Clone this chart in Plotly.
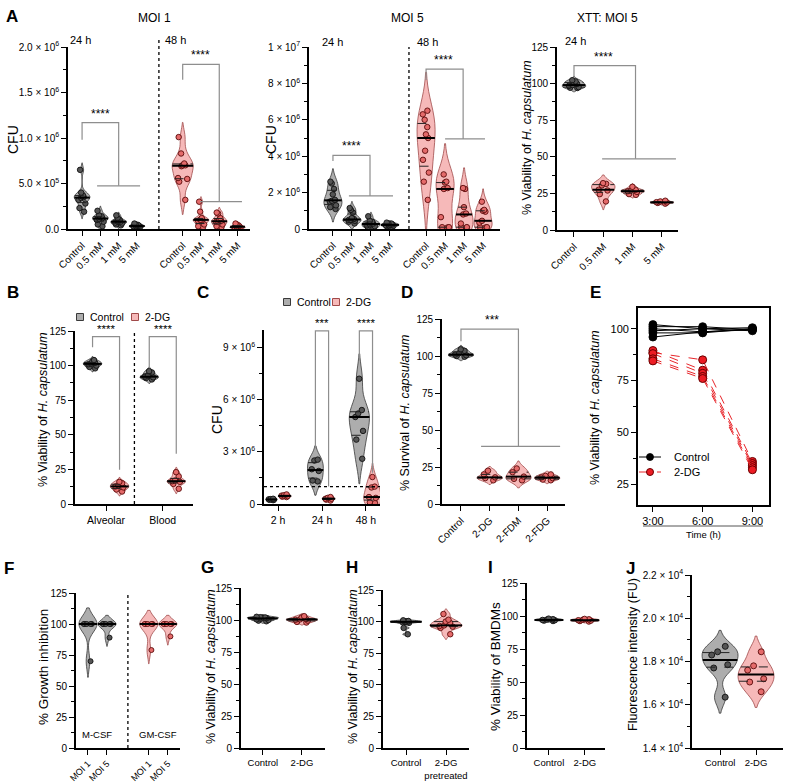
import numpy as np
import plotly.graph_objects as go

W, H = 789, 782
FONT = "Liberation Sans, Arial, Helvetica, sans-serif"

# ======================= DATA =======================
# Panel A, MOI 1 (CFU, values in units of 1e6)
A1_labels = ["Control", "0.5 mM", "1 mM", "5 mM", "Control", "0.5 mM", "1 mM", "5 mM"]
A1_pos = [0, 1, 2, 3, 5.5, 6.5, 7.5, 8.5]
A1_kind = ["c", "c", "c", "c", "t", "t", "t", "t"]
A1_vals = [
    [0.65, 0.40, 0.37, 0.36, 0.35, 0.34, 0.32, 0.28, 0.23, 0.19],
    [0.20, 0.15, 0.14, 0.13, 0.12, 0.11, 0.10, 0.08, 0.05, 0.03],
    [0.15, 0.12, 0.10, 0.09, 0.08, 0.08, 0.07, 0.06, 0.05, 0.04],
    [0.06, 0.05, 0.045, 0.04, 0.035, 0.03, 0.03, 0.025, 0.02, 0.015],
    [1.01, 0.83, 0.72, 0.70, 0.70, 0.69, 0.56, 0.55, 0.52, 0.32],
    [0.30, 0.19, 0.12, 0.10, 0.10, 0.10, 0.09, 0.05, 0.03, 0.02],
    [0.18, 0.17, 0.12, 0.10, 0.09, 0.08, 0.08, 0.05, 0.03, 0.02],
    [0.06, 0.05, 0.04, 0.03, 0.03, 0.02, 0.02, 0.015, 0.01, 0.01],
]
A1_yticks = [0, 0.5e6, 1.0e6, 1.5e6, 2.0e6]
A1_yticktext = ["0.0", "5.0 × 10<sup>5</sup>", "1.0 × 10<sup>6</sup>", "1.5 × 10<sup>6</sup>", "2.0 × 10<sup>6</sup>"]

# Panel A, MOI 5 (CFU, units of 1e6)
A2_labels = A1_labels
A2_pos = [0, 1, 2, 3, 4.9, 5.9, 6.9, 7.9]
A2_kind = A1_kind
A2_vals = [
    [2.6, 2.5, 2.2, 1.9, 1.6, 1.55, 1.5, 1.3, 1.2, 1.1],
    [1.15, 1.05, 0.9, 0.6, 0.55, 0.5, 0.5, 0.45, 0.4, 0.3],
    [0.7, 0.45, 0.4, 0.35, 0.3, 0.25, 0.2, 0.15, 0.1, 0.05],
    [0.35, 0.3, 0.3, 0.25, 0.25, 0.2, 0.2, 0.18, 0.15, 0.1],
    [6.5, 6.3, 6.0, 5.6, 5.2, 5.0, 4.3, 3.8, 3.1, 2.6, 1.6],
    [3.0, 2.6, 2.55, 2.25, 2.2, 0.65, 0.1, 0.1, 0.08],
    [2.25, 2.2, 1.2, 0.85, 0.8, 0.3, 0.1, 0.1, 0.08],
    [1.5, 1.05, 1.0, 0.95, 0.45, 0.35, 0.1, 0.1, 0.08],
]
A2_yticks = [0, 2e6, 4e6, 6e6, 8e6, 1e7]
A2_yticktext = ["0", "2 × 10<sup>6</sup>", "4 × 10<sup>6</sup>", "6 × 10<sup>6</sup>", "8 × 10<sup>6</sup>", "1 × 10<sup>7</sup>"]

# Panel A, XTT: MOI 5 (% viability)
A3_labels = ["Control", "0.5 mM", "1 mM", "5 mM"]
A3_pos = [0, 1, 2, 3]
A3_kind = ["c", "t", "t", "t"]
A3_vals = [
    [102.3, 101.5, 100.8, 99.8, 99.0, 98.5, 97.6, 97.2, 97.0],
    [32, 31.5, 30.5, 27.5, 27, 24.5, 19.5],
    [29.5, 27.5, 27, 26.5, 26, 24.5, 24],
    [20, 19.5, 19, 18.8, 18.5, 18],
]

# Panel B
B_groups = ["Alveolar", "Blood"]
B_group_pos = [0, 2.1]
B_pos = [-0.5, 0.5, 1.6, 2.6]
B_kind = ["c", "t", "c", "t"]
B_vals = [
    [104, 103, 102, 101.5, 101, 100, 99, 98],
    [16, 15, 13.5, 12.7, 12, 10.5, 9],
    [96, 95, 93, 92, 91.5, 91, 90],
    [23, 20, 17, 16.5, 16, 14.5, 11],
]

# Panel C (CFU, units of 1e6)
C_groups = ["2 h", "24 h", "48 h"]
C_group_pos = [0, 1, 2]
C_pos = [-0.15, 0.15, 0.85, 1.15, 1.85, 2.15]
C_kind = ["c", "t", "c", "t", "c", "t"]
C_vals = [
    [0.30, 0.28, 0.27, 0.25, 0.24, 0.22],
    [0.55, 0.50, 0.48, 0.45, 0.42, 0.40],
    [2.55, 2.5, 2.0, 1.9, 1.35, 1.3],
    [0.40, 0.35, 0.30, 0.30, 0.25, 0.20],
    [7.2, 5.4, 5.2, 5.0, 4.2, 3.7, 2.6],
    [1.55, 1.0, 0.95, 0.4, 0.35, 0.1, 0.05],
]
C_widths = [0.26, 0.3, 0.36, 0.3, 0.46, 0.4]
C_lod = 1.0e6
C_yticks = [0, 3e6, 6e6, 9e6]
C_yticktext = ["0", "3 × 10<sup>6</sup>", "6 × 10<sup>6</sup>", "9 × 10<sup>6</sup>"]

# Panel D
D_labels = ["Control", "2-DG", "2-FDM", "2-FDG"]
D_pos = [0, 1, 2, 3]
D_kind = ["c", "t", "t", "t"]
D_vals = [
    [104.5, 103.5, 102, 101, 100.5, 100, 99.5],
    [22.5, 20, 18, 17.5, 16],
    [24, 21.5, 18.5, 17, 16],
    [20, 19, 18, 17.5, 16.5, 16],
]

# Panel E (time course)
E_times = [3, 6, 9]
E_ticklabels = ["3:00", "6:00", "9:00"]
E_control = [
    [102, 100, 100.5],
    [101, 101, 99.5],
    [100, 98.5, 100],
    [99, 100, 99],
    [98, 98, 100],
    [96, 98.5, 99.5],
]
E_2dg = [
    [88.5, 85, 36],
    [89.5, 80, 35],
    [88, 78.5, 34],
    [85.5, 77, 33],
    [84.5, 76, 32],
]

# Panel F
F_labels = ["MOI 1", "MOI 5", "MOI 1", "MOI 5"]
F_pos = [0, 1, 3.2, 4.2]
F_kind = ["c", "c", "t", "t"]
F_vals = [
    [100, 100, 100, 100, 100, 70],
    [100, 100, 100, 100, 100, 89],
    [100, 100, 100, 100, 100, 79],
    [100, 100, 100, 100, 100, 90],
]
F_bw = [6.5, 3.5, 5.5, 3.5]

# Panel G
G_labels = ["Control", "2-DG"]
G_pos = [0, 1]
G_kind = ["c", "t"]
G_vals = [
    [102.5, 102.2, 102, 101.8, 101.5, 101, 100.5, 100, 99.5, 99],
    [103, 102, 100.8, 100.5, 100.2, 99.5, 98.5, 98],
]

# Panel H
H_labels = ["Control", "2-DG<br>pretreated"]
H_pos = [0, 1]
H_kind = ["c", "t"]
H_vals = [
    [101, 100.5, 100.2, 100, 99.8, 99.5, 99, 95, 90],
    [106, 101.5, 100, 99, 97, 96.5, 96, 95, 90],
]

# Panel I
I_labels = ["Control", "2-DG"]
I_pos = [0, 1]
I_kind = ["c", "t"]
I_vals = [
    [98, 97.6, 97.3, 97, 96.8, 96.5, 96.2],
    [97.8, 97.5, 97.2, 96.8, 96.5, 96.2, 95.8],
]

# Panel J (fluorescence units)
J_labels = ["Control", "2-DG"]
J_pos = [0, 1]
J_kind = ["c", "t"]
J_vals = [
    [18700, 18450, 18300, 17850, 17700, 16350],
    [18450, 17800, 17600, 17200, 17050, 16600],
]
J_yticks = [14000, 16000, 18000, 20000, 22000]
J_yticktext = ["1.4 × 10<sup>4</sup>", "1.6 × 10<sup>4</sup>", "1.8 × 10<sup>4</sup>", "2.0 × 10<sup>4</sup>", "2.2 × 10<sup>4</sup>"]

PCT_ticks = [0, 25, 50, 75, 100, 125]

# ======================= HELPERS =======================
STY = {
    "c": dict(fill="#adadad", line="#3a3a3a", mfill="#555555", mline="#111111"),
    "t": dict(fill="#f6b9b9", line="#a04a4a", mfill="#e46a6a", mline="#5a0a0a"),
}

fig = go.Figure()
annotations = []
shapes = []


def px_x(px):
    return px / W


def px_y(py):
    return 1 - py / H


def silverman(v):
    v = np.asarray(v, float)
    n = len(v)
    sd = v.std(ddof=1)
    q1, q3 = np.percentile(v, [25, 75])
    a = min(sd, (q3 - q1) / 1.349)
    if a <= 0:
        a = sd
    return max(1.059 * a * n ** -0.2, (v.max() - v.min()) / 100)


def kde_half(v, bw, width, ys):
    v = np.asarray(v, float)
    grid = np.linspace(v.min() - 2 * bw, v.max() + 2 * bw, 600)

    def dens(y):
        y = np.atleast_1d(np.asarray(y, float))
        return np.exp(-0.5 * ((y[:, None] - v[None, :]) / bw) ** 2).sum(1)

    mx = dens(grid).max()
    return width / 2 * dens(ys) / mx


def axref(i):
    return ("x" if i == 1 else f"x{i}"), ("y" if i == 1 else f"y{i}")


def add_violin(ax, x, vals, kind, width, scale=1.0, bw=None, msize=5.5):
    xr, yr = axref(ax)
    v = np.asarray(vals, float) * scale
    if bw is None:
        bw = silverman(v)
    else:
        bw = bw * scale
    s = STY[kind]
    fig.add_trace(go.Violin(
        x=[x] * len(v), y=v, xaxis=xr, yaxis=yr, width=width, bandwidth=bw,
        spanmode="soft", scalemode="width", fillcolor=s["fill"],
        line=dict(color=s["line"], width=0.8), points="all", pointpos=0, jitter=0.55,
        marker=dict(size=msize, color=s["mfill"], line=dict(color=s["mline"], width=0.9)),
        box_visible=False, meanline_visible=False, showlegend=False, hoverinfo="y",
    ))
    q1, med, q3 = np.percentile(v, [25, 50, 75])
    hw = kde_half(v, bw, width, [q1, med, q3])
    fig.add_trace(go.Scatter(
        x=[x - hw[0], x + hw[0], None, x - hw[2], x + hw[2]],
        y=[q1, q1, None, q3, q3], mode="lines", xaxis=xr, yaxis=yr,
        line=dict(color="#222222", width=1, dash="dash"), showlegend=False, hoverinfo="skip"))
    fig.add_trace(go.Scatter(
        x=[x - hw[1], x + hw[1]], y=[med, med], mode="lines", xaxis=xr, yaxis=yr,
        line=dict(color="black", width=2), showlegend=False, hoverinfo="skip"))


def add_bracket(ax, pts, scale=1.0):
    xr, yr = axref(ax)
    xs, ys = [], []
    for seg in pts:
        for (a, b) in seg:
            xs.append(a)
            ys.append(b * scale)
        xs.append(None)
        ys.append(None)
    fig.add_trace(go.Scatter(x=xs, y=ys, mode="lines", xaxis=xr, yaxis=yr,
                             line=dict(color="#8e8e8e", width=1.2),
                             showlegend=False, hoverinfo="skip"))


def stars(ax, x, y, text, size=12):
    xr, yr = axref(ax)
    annotations.append(dict(x=x, y=y, xref=xr, yref=yr, text=text, showarrow=False,
                            yanchor="bottom", font=dict(size=size, family=FONT, color="black")))


def ann(px, py, text, size=11, bold=False, xanchor="center", yanchor="middle", angle=0):
    annotations.append(dict(x=px_x(px), y=px_y(py), xref="paper", yref="paper",
                            text=(f"<b>{text}</b>" if bold else text), showarrow=False,
                            font=dict(size=size, family=FONT, color="black"),
                            xanchor=xanchor, yanchor=yanchor, textangle=angle))


def axis_common():
    return dict(showline=True, linecolor="black", linewidth=1.8, ticks="outside",
                ticklen=5, tickwidth=1.4, tickcolor="black", showgrid=False,
                zeroline=False, automargin=False,
                tickfont=dict(size=10, family=FONT, color="black"))


layout_axes = {}


def set_axes(i, xpx, ypx, xrange, yrange, xtickvals, xticktext, ytickvals, yticktext,
             yminor, xangle=0, xtickfont=10, mirror=False):
    xk = "xaxis" if i == 1 else f"xaxis{i}"
    yk = "yaxis" if i == 1 else f"yaxis{i}"
    xr, yr = axref(i)
    xa = axis_common()
    xa.update(domain=[px_x(xpx[0]), px_x(xpx[1])], range=xrange, anchor=yr,
              tickmode="array", tickvals=xtickvals, ticktext=xticktext, tickangle=xangle,
              tickfont=dict(size=xtickfont, family=FONT, color="black"))
    ya = axis_common()
    ya.update(domain=[px_y(ypx[1]), px_y(ypx[0])], range=yrange, anchor=xr,
              tickmode="array", tickvals=ytickvals, ticktext=yticktext,
              minor=dict(tickvals=yminor, ticks="outside", ticklen=3, tickwidth=1.2,
                         tickcolor="black", showgrid=False))
    if mirror:
        xa.update(mirror=True)
        ya.update(mirror=True)
    layout_axes[xk] = xa
    layout_axes[yk] = ya


pct_minor = [12.5, 37.5, 62.5, 87.5, 112.5]

# ======================= PANEL A =======================
set_axes(1, (68, 250), (47, 229), [-0.77, 9.18], [0, 2.0e6], A1_pos, A1_labels,
         A1_yticks, A1_yticktext, [0.25e6, 0.75e6, 1.25e6, 1.75e6], xangle=-45)
for p, v, k in zip(A1_pos, A1_vals, A1_kind):
    add_violin(1, p, v, k, 1.15 if (p == 5.5) else 0.85, scale=1e6)
add_bracket(1, [[(0, 0.98), (0, 1.17), (2, 1.17), (2, 0.475)], [(0.82, 0.475), (3.17, 0.475)]], 1e6)
add_bracket(1, [[(5.5, 1.64), (5.5, 1.81), (7.5, 1.81), (7.5, 0.30)], [(6.45, 0.30), (8.74, 0.30)]], 1e6)
stars(1, 1.0, 1.17e6, "****")
stars(1, 6.5, 1.81e6, "****")
shapes.append(dict(type="line", xref="x", yref="paper", x0=4.2, x1=4.2, y0=px_y(229), y1=px_y(40),
                   line=dict(color="black", width=1.3, dash="dot")))

set_axes(2, (309, 500), (47, 229), [-1.26, 8.79], [0, 1.0e7], A2_pos, A2_labels,
         A2_yticks, A2_yticktext, [1e6, 3e6, 5e6, 7e6, 9e6], xangle=-45)
for p, v, k in zip(A2_pos, A2_vals, A2_kind):
    add_violin(2, p, v, k, 0.95, scale=1e6)
add_bracket(2, [[(0, 3.73), (0, 4.05), (1.95, 4.05), (1.95, 1.82)], [(0.84, 1.82), (3.16, 1.82)]], 1e6)
add_bracket(2, [[(4.9, 8.18), (4.9, 8.78), (6.85, 8.78), (6.85, 4.95)], [(5.9, 4.95), (8.0, 4.95)]], 1e6)
stars(2, 1.0, 4.05e6, "****")
stars(2, 5.8, 8.78e6, "****")
shapes.append(dict(type="line", xref="x2", yref="paper", x0=4.0, x1=4.0, y0=px_y(229), y1=px_y(47),
                   line=dict(color="black", width=1.3, dash="dot")))

set_axes(3, (557, 678), (47, 230), [-0.58, 3.55], [0, 125], A3_pos, A3_labels,
         PCT_ticks, [str(t) for t in PCT_ticks], pct_minor, xangle=-45)
for p, v, k in zip(A3_pos, A3_vals, A3_kind):
    add_violin(3, p, v, k, 0.8)
add_bracket(3, [[(0, 104.5), (0, 112.3), (2.1, 112.3), (2.1, 48.6)], [(0.96, 48.6), (3.48, 48.6)]])
stars(3, 1.0, 112.3, "****")

ann(12, 17, "A", 17, bold=True)
ann(154, 18, "MOI 1", 12)
ann(407, 18, "MOI 5", 12)
ann(607, 18, "XTT: MOI 5", 12)
ann(80, 40, "24 h", 11)
ann(175, 40, "48 h", 11)
ann(332, 42, "24 h", 11)
ann(427, 42, "48 h", 11)
ann(575, 41, "24 h", 11)
ann(13, 140, "CFU", 14, angle=-90)
ann(271, 140, "CFU", 14, angle=-90)
ann(527, 138, "% Viability of <i>H. capsulatum</i>", 12.5, angle=-90)

# ======================= PANEL B =======================
set_axes(4, (75, 193), (331, 504), [-1.15, 3.22], [0, 125], B_group_pos, B_groups,
         PCT_ticks, [str(t) for t in PCT_ticks], pct_minor, xtickfont=10.5)
for p, v, k in zip(B_pos, B_vals, B_kind):
    add_violin(4, p, v, k, 0.68)
add_bracket(4, [[(-0.5, 113.2), (-0.5, 120.9), (0.5, 120.9), (0.5, 24.8)]])
add_bracket(4, [[(1.6, 98), (1.6, 120.9), (2.6, 120.9), (2.6, 36.3)]])
stars(4, 0.0, 120.9, "****", 11.5)
stars(4, 2.1, 120.9, "****", 11.5)
shapes.append(dict(type="line", xref="x4", yref="paper", x0=1.05, x1=1.05, y0=px_y(504), y1=px_y(331),
                   line=dict(color="black", width=1.3, dash="dot")))
ann(13, 293, "B", 17, bold=True)
ann(43, 410, "% Viability of <i>H. capsulatum</i>", 12.5, angle=-90)


def legend_sq(cx, cy, kind, label, size=10.5):
    s = STY[kind]
    shapes.append(dict(type="rect", xref="paper", yref="paper",
                       x0=px_x(cx - 3.5), x1=px_x(cx + 3.5), y0=px_y(cy + 3.5), y1=px_y(cy - 3.5),
                       fillcolor=s["fill"], line=dict(color=s["line"], width=1)))
    ann(cx + 8, cy, label, size, xanchor="left")


legend_sq(80, 317, "c", "Control")
legend_sq(135, 317, "t", "2-DG")

# ======================= PANEL C =======================
set_axes(5, (264, 380), (330, 504), [-0.32, 2.32], [0, 1.0e7], C_group_pos, C_groups,
         C_yticks, C_yticktext, [1.5e6, 4.5e6, 7.5e6], xtickfont=10.5)
for p, v, k, w in zip(C_pos, C_vals, C_kind, C_widths):
    add_violin(5, p, v, k, w, scale=1e6)
add_bracket(5, [[(0.85, 3.2), (0.85, 9.95), (1.15, 9.95), (1.15, 1.0)]], 1e6)
add_bracket(5, [[(1.85, 8.3), (1.85, 9.95), (2.15, 9.95), (2.15, 1.8)]], 1e6)
stars(5, 1.0, 9.95e6, "***", 11.5)
stars(5, 2.0, 9.95e6, "****", 11.5)
shapes.append(dict(type="line", xref="x5 domain", yref="y5", x0=0, x1=1, y0=C_lod, y1=C_lod,
                   line=dict(color="black", width=1.3, dash="dot")))
ann(203, 293, "C", 17, bold=True)
ann(217, 420, "CFU", 14, angle=-90)
legend_sq(287, 302, "c", "Control")
legend_sq(336, 302, "t", "2-DG")

# ======================= PANEL D =======================
set_axes(6, (442, 565), (319, 504), [-0.66, 3.62], [0, 125], D_pos, D_labels,
         PCT_ticks, [str(t) for t in PCT_ticks], pct_minor, xangle=-45)
for p, v, k in zip(D_pos, D_vals, D_kind):
    add_violin(6, p, v, k, 0.88)
add_bracket(6, [[(0, 109.9), (0, 118.2), (2, 118.2), (2, 39)], [(0.7, 39), (3.45, 39)]])
stars(6, 1.08, 118.2, "***")
ann(407, 292, "D", 17, bold=True)
ann(405, 413, "% Survival of <i>H. capsulatum</i>", 12.5, angle=-90)

# ======================= PANEL E =======================
set_axes(7, (638, 769), (308, 505), [2.1, 10.0], [15, 110], E_times, E_ticklabels,
         [25, 50, 75, 100], ["25", "50", "75", "100"], [37.5, 62.5, 87.5], mirror=True,
         xtickfont=11)
layout_axes["yaxis7"]["tickfont"] = dict(size=11, family=FONT, color="black")
for s in E_control:
    fig.add_trace(go.Scatter(x=E_times, y=s, mode="lines+markers", xaxis="x7", yaxis="y7",
                             line=dict(color="black", width=1),
                             marker=dict(size=8, color="black", line=dict(color="black", width=0.8)),
                             showlegend=False, hoverinfo="y"))
for s in E_2dg:
    fig.add_trace(go.Scatter(x=E_times, y=s, mode="lines+markers", xaxis="x7", yaxis="y7",
                             line=dict(color="#e8262b", width=1, dash="dash"),
                             marker=dict(size=8, color="#ec1c24", line=dict(color="#6a0000", width=1)),
                             showlegend=False, hoverinfo="y"))
ann(595, 292, "E", 17, bold=True)
ann(595, 408, "% Viability of <i>H. capsulatum</i>", 12.5, angle=-90)
shapes.append(dict(type="line", xref="paper", yref="paper", x0=px_x(639), x1=px_x(661),
                   y0=px_y(457), y1=px_y(457), line=dict(color="black", width=1)))
shapes.append(dict(type="circle", xref="paper", yref="paper", x0=px_x(646.5), x1=px_x(653.5),
                   y0=px_y(460.5), y1=px_y(453.5), fillcolor="black", line=dict(color="black", width=0.8)))
shapes.append(dict(type="line", xref="paper", yref="paper", x0=px_x(639), x1=px_x(661),
                   y0=px_y(472), y1=px_y(472), line=dict(color="#e8262b", width=1, dash="dash")))
shapes.append(dict(type="circle", xref="paper", yref="paper", x0=px_x(646.5), x1=px_x(653.5),
                   y0=px_y(475.5), y1=px_y(468.5), fillcolor="#ec1c24", line=dict(color="#6a0000", width=1)))
ann(672, 457, "Control", 11, xanchor="left")
ann(672, 472, "2-DG", 11, xanchor="left")
shapes.append(dict(type="line", xref="paper", yref="paper", x0=px_x(643), x1=px_x(763),
                   y0=px_y(526), y1=px_y(526), line=dict(color="#555555", width=1)))
ann(703, 534, "Time (h)", 9.5)

# ======================= PANEL F =======================
set_axes(8, (76, 180), (593, 748), [-0.63, 4.84], [0, 125], F_pos, F_labels,
         PCT_ticks, [str(t) for t in PCT_ticks], pct_minor, xangle=-45, xtickfont=9)
for p, v, k, b in zip(F_pos, F_vals, F_kind, F_bw):
    add_violin(8, p, v, k, 0.95, bw=b, msize=5)
shapes.append(dict(type="line", xref="x8", yref="paper", x0=2.1, x1=2.1, y0=px_y(748), y1=px_y(592),
                   line=dict(color="black", width=1.3, dash="dot")))
annotations.append(dict(x=0.5, y=5, xref="x8", yref="y8", text="M-CSF", showarrow=False,
                        font=dict(size=9.5, family=FONT, color="black"), yanchor="bottom"))
annotations.append(dict(x=3.7, y=5, xref="x8", yref="y8", text="GM-CSF", showarrow=False,
                        font=dict(size=9.5, family=FONT, color="black"), yanchor="bottom"))
ann(9, 568, "F", 17, bold=True)
ann(43, 667, "% Growth inhibition", 13.5, angle=-90)

# ======================= PANEL G =======================
set_axes(9, (241, 325), (588, 748), [-0.56, 1.59], [0, 125], G_pos, G_labels,
         PCT_ticks, [str(t) for t in PCT_ticks], pct_minor, xtickfont=9.5)
for p, v, k in zip(G_pos, G_vals, G_kind):
    add_violin(9, p, v, k, 0.8)
ann(207, 567, "G", 17, bold=True)
ann(211, 667, "% Viability of <i>H. capsulatum</i>", 12.5, angle=-90)

# ======================= PANEL H =======================
set_axes(10, (383, 469), (590, 748), [-0.575, 1.575], [0, 125], H_pos, H_labels,
         PCT_ticks, [str(t) for t in PCT_ticks], pct_minor, xtickfont=9.5)
for p, v, k in zip(H_pos, H_vals, H_kind):
    add_violin(10, p, v, k, 0.8)
ann(352, 567, "H", 17, bold=True)
ann(353, 667, "% Viability of <i>H. capsulatum</i>", 12.5, angle=-90)

# ======================= PANEL I =======================
set_axes(11, (527, 605), (583, 748), [-0.61, 1.56], [0, 125], I_pos, I_labels,
         PCT_ticks, [str(t) for t in PCT_ticks], pct_minor, xtickfont=9.5)
for p, v, k in zip(I_pos, I_vals, I_kind):
    add_violin(11, p, v, k, 0.8)
ann(490, 567, "I", 17, bold=True)
ann(495, 667, "% Viability of BMDMs", 13.5, angle=-90)

# ======================= PANEL J =======================
set_axes(12, (692, 783), (575, 748), [-0.78, 1.75], [14000, 22000], J_pos, J_labels,
         J_yticks, J_yticktext, [15000, 17000, 19000, 21000], xtickfont=9.5)
for p, v, k in zip(J_pos, J_vals, J_kind):
    add_violin(12, p, v, k, 1.0, msize=6)
ann(630, 568, "J", 17, bold=True)
ann(633, 655, "Fluorescence intensity (FU)", 12.5, angle=-90)

fig.update_layout(
    template="none",
    width=W, height=H, autosize=False,
    margin=dict(l=0, r=0, t=0, b=0, pad=0),
    paper_bgcolor="white", plot_bgcolor="white",
    font=dict(family=FONT, color="black"),
    violinmode="overlay", showlegend=False, hovermode=False,
    annotations=annotations, shapes=shapes,
    **layout_axes,
)

fig.write_html(
    "out.html",
    config={"displayModeBar": False, "staticPlot": False},
    post_script="document.body.style.margin='0px';document.body.style.padding='0px';"
                "document.body.style.overflow='hidden';",
)
